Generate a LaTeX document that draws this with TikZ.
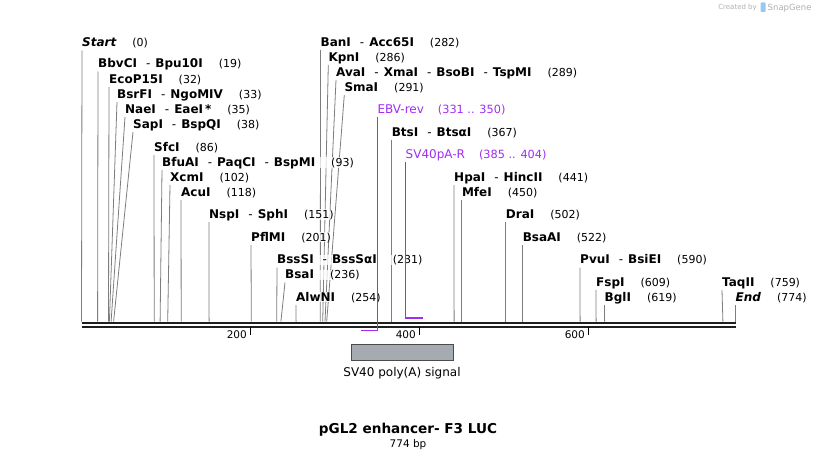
\documentclass[tikz,border=0pt]{standalone}
\usepackage{fontspec}
\setmainfont{DejaVu Sans}
\usepackage{xcolor}
\usepackage{tikz}
\usetikzlibrary{calc,positioning,backgrounds}
\definecolor{cutgray}{RGB}{125,125,125}
\definecolor{primerviolet}{RGB}{160,45,240}
\definecolor{featfill}{RGB}{166,171,178}
\definecolor{featdraw}{RGB}{75,75,75}
\definecolor{logogray}{RGB}{175,175,175}
\definecolor{logoblue}{RGB}{150,200,240}
\newcommand{\orsep}{\hspace{9pt}{\mdseries-}\hspace{5pt}}
\newcommand{\sitepos}[1]{\hspace{16pt}{\mdseries\upshape\fontsize{11}{13}\selectfont(#1)}}
\tikzset{
  site/.style={anchor=base west, inner sep=0pt, fill=white, fill opacity=0.75, text opacity=1, font=\fontsize{12}{14}\selectfont\bfseries},
  ends/.style={site, font=\fontsize{12}{14}\selectfont\bfseries\itshape},
  primerlbl/.style={anchor=base west, inner sep=0pt, text=primerviolet, font=\fontsize{12}{14}\selectfont},
  cut/.style={draw=cutgray, line width=0.8pt},
  primer/.style={draw=primerviolet, line width=1.3pt},
  seqline/.style={line width=2.1pt, black!88},
  scaletick/.style={line width=1.8pt},
  ticklbl/.style={anchor=base east, inner sep=0pt, font=\fontsize{10.5}{12}\selectfont},
  feature/.style={draw=featdraw, fill=featfill, line width=0.7pt, minimum width=102pt, minimum height=16pt, inner sep=0pt}
}

\begin{document}
\begin{tikzpicture}[x=1pt,y=-1pt]
\useasboundingbox (0,0) rectangle (818,460);

\coordinate (seqL) at (81.5,323.3);
\coordinate (seqR) at (735.5,323.3);
\draw[seqline] (seqL) -- (seqR);
\draw[seqline, line width=1.8pt] ($(seqL)+(0,3.3)$) -- ($(seqR)+(0,3.3)$);

\coordinate (t200) at (250.5,327);
\coordinate (t400) at (419.5,327);
\coordinate (t600) at (588.5,327);
\draw[scaletick] (t200) -- ++(0,7.5);
\draw[scaletick] (t400) -- ++(0,7.5);
\draw[scaletick] (t600) -- ++(0,7.5);
\node[ticklbl] (l200) at (247,338) {200};
\node[ticklbl] (l400) at (416,338) {400};
\node[ticklbl] (l600) at (585,338) {600};

\coordinate (c0) at (81.5,321.5);
\coordinate (c19) at (97.6,321.5);
\coordinate (c32) at (108.5,321.5);
\coordinate (c33) at (109.4,321.5);
\coordinate (c35) at (111.1,321.5);
\coordinate (c38) at (113.6,321.5);
\coordinate (c86) at (154.2,321.5);
\coordinate (c93) at (160.1,321.5);
\coordinate (c102) at (167.7,321.5);
\coordinate (c118) at (181.2,321.5);
\coordinate (c151) at (209.1,321.5);
\coordinate (c201) at (251.3,321.5);
\coordinate (c231) at (276.7,321.5);
\coordinate (c236) at (280.9,321.5);
\coordinate (c254) at (296.1,321.5);
\coordinate (c282) at (320.3,321.5);
\coordinate (c286) at (322.7,321.5);
\coordinate (c289) at (325.0,321.5);
\coordinate (c291) at (326.7,321.5);
\coordinate (c367) at (391.6,321.5);
\coordinate (c441) at (454.1,321.5);
\coordinate (c450) at (461.8,321.5);
\coordinate (c502) at (505.7,321.5);
\coordinate (c522) at (522.6,321.5);
\coordinate (c590) at (580.1,321.5);
\coordinate (c609) at (596.1,321.5);
\coordinate (c619) at (604.6,321.5);
\coordinate (c759) at (722.9,321.5);
\coordinate (c774) at (735.5,321.5);

\node[ends] (start) at (82,46.5) {Start\sitepos{0}};
\node[site] (bbvci) at (98,67.5) {BbvCI\orsep Bpu10I\sitepos{19}};
\node[site] (ecop15i) at (109,83) {EcoP15I\sitepos{32}};
\node[site] (bsrfi) at (117,98) {BsrFI\orsep NgoMIV\sitepos{33}};
\node[site] (naei) at (125,113) {NaeI\orsep EaeI\,*\sitepos{35}};
\node[site] (sapi) at (133,128) {SapI\orsep BspQI\sitepos{38}};
\node[site] (sfci) at (154,151) {SfcI\sitepos{86}};
\node[site] (bfuai) at (162,166) {BfuAI\orsep PaqCI\orsep BspMI\sitepos{93}};
\node[site] (xcmi) at (170,181) {XcmI\sitepos{102}};
\node[site] (acui) at (181,196) {AcuI\sitepos{118}};
\node[site] (nspi) at (209,218) {NspI\orsep SphI\sitepos{151}};
\node[site] (pflmi) at (251,241) {PflMI\sitepos{201}};
\node[site] (bsssi) at (277,263.5) {BssSI\orsep BssSαI\sitepos{231}};
\node[site] (bsai) at (285,278.5) {BsaI\sitepos{236}};
\node[site] (alwni) at (296,301) {AlwNI\sitepos{254}};
\node[site] (bani) at (320.5,46) {BanI\orsep Acc65I\sitepos{282}};
\node[site] (kpni) at (328.3,61) {KpnI\sitepos{286}};
\node[site] (avai) at (336,76) {AvaI\orsep XmaI\orsep BsoBI\orsep TspMI\sitepos{289}};
\node[site] (smai) at (344.3,91) {SmaI\sitepos{291}};
\node[primerlbl] (ebvrev) at (377.3,113.3) {EBV-rev\hspace{14pt}{\fontsize{11.3}{13}\selectfont(331 .. 350)}};
\node[site] (btsi) at (391.6,136) {BtsI\orsep BtsαI\sitepos{367}};
\node[primerlbl] (sv40par) at (405.5,158.3) {SV40pA-R\hspace{14pt}{\fontsize{11.3}{13}\selectfont(385 .. 404)}};
\node[site] (hpai) at (454,181) {HpaI\orsep HincII\sitepos{441}};
\node[site] (mfei) at (461.8,196) {MfeI\sitepos{450}};
\node[site] (drai) at (505.7,218) {DraI\sitepos{502}};
\node[site] (bsaai) at (522.6,241) {BsaAI\sitepos{522}};
\node[site] (pvui) at (580,263.5) {PvuI\orsep BsiEI\sitepos{590}};
\node[site] (fspi) at (596,286) {FspI\sitepos{609}};
\node[site] (bgli) at (604.5,301) {BglI\sitepos{619}};
\node[site] (taqii) at (722,286) {TaqII\sitepos{759}};
\node[ends] (endsite) at (735.5,301) {End\sitepos{774}};

\begin{scope}[on background layer]
\draw[cut] ([yshift=-4pt]start.base west) -- (c0);
\draw[cut] ([yshift=-4pt]bbvci.base west) -- (c19);
\draw[cut] ([yshift=-4pt]ecop15i.base west) -- (c32);
\draw[cut] ([yshift=-4pt]bsrfi.base west) -- (c33);
\draw[cut] ([yshift=-4pt]naei.base west) -- (c35);
\draw[cut] ([yshift=-4pt]sapi.base west) -- (c38);
\draw[cut] ([yshift=-4pt]sfci.base west) -- (c86);
\draw[cut] ([yshift=-4pt]bfuai.base west) -- (c93);
\draw[cut] ([yshift=-4pt]xcmi.base west) -- (c102);
\draw[cut] ([yshift=-4pt]acui.base west) -- (c118);
\draw[cut] ([yshift=-4pt]nspi.base west) -- (c151);
\draw[cut] ([yshift=-4pt]pflmi.base west) -- (c201);
\draw[cut] ([yshift=-4pt]bsssi.base west) -- (c231);
\draw[cut] ([yshift=-4pt]bsai.base west) -- (c236);
\draw[cut] ([yshift=-4pt]alwni.base west) -- (c254);
\draw[cut] ([yshift=-4pt]bani.base west) -- (c282);
\draw[cut] ([yshift=-4pt]kpni.base west) -- (c286);
\draw[cut] ([yshift=-4pt]avai.base west) -- (c289);
\draw[cut] ([yshift=-4pt]smai.base west) -- (c291);
\draw[cut] ([yshift=-4pt]btsi.base west) -- (c367);
\draw[cut] ([yshift=-4pt]hpai.base west) -- (c441);
\draw[cut] ([yshift=-4pt]mfei.base west) -- (c450);
\draw[cut] ([yshift=-4pt]drai.base west) -- (c502);
\draw[cut] ([yshift=-4pt]bsaai.base west) -- (c522);
\draw[cut] ([yshift=-4pt]pvui.base west) -- (c590);
\draw[cut] ([yshift=-4pt]fspi.base west) -- (c609);
\draw[cut] ([yshift=-4pt]bgli.base west) -- (c619);
\draw[cut] ([yshift=-4pt]taqii.base west) -- (c759);
\draw[cut] ([yshift=-4pt]endsite.base west) -- (c774);
\end{scope}

\coordinate (ebvtail) at (360.5,330.5);
\coordinate (spatail) at (422.5,318);
\draw[primer] ([yshift=-4pt]ebvrev.base west) |- (ebvtail);
\draw[primer] ([yshift=-4pt]sv40par.base west) |- (spatail);

\node[feature] (polya) at (402,352) {};
\node[below=7pt of polya, inner sep=0pt, font=\fontsize{12}{14}\selectfont] (polyalbl) {SV40 poly(A) signal};

\node[inner sep=0pt, anchor=base, font=\fontsize{13.6}{16}\selectfont\bfseries] (title) at (408,433.5) {pGL2 enhancer- F3 LUC};
\node[inner sep=0pt, anchor=base, font=\fontsize{10.5}{12}\selectfont] (length) at (408,447.3) {774 bp};

\node[inner sep=0pt, anchor=base east, text=logogray, font=\fontsize{7}{8}\selectfont] (created) at (757,10) {Created by};
\fill[logoblue, rounded corners=1pt] (760.5,2.5) rectangle (765.5,12);
\node[inner sep=0pt, anchor=base west, text=logogray, font=\fontsize{8.5}{10}\selectfont] (snapgene) at (767.5,10.5) {SnapGene};
\end{tikzpicture}
\end{document}
